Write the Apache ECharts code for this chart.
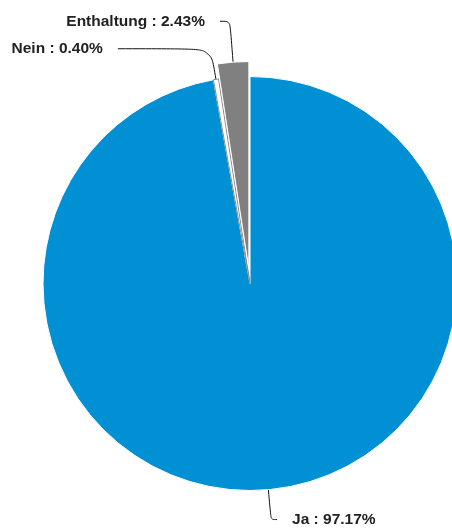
<!DOCTYPE html>
<html>
<head>
<meta charset="utf-8">
<script src="https://cdn.jsdelivr.net/npm/echarts@6/dist/echarts.min.js"></script>
<style>html,body{margin:0;padding:0;background:#fff;}#c{width:452px;height:529px;}</style>
</head>
<body>
<div id="c"></div>
<script>
const categories = ['Ja', 'Nein', 'Enthaltung'];
const values = [97.17, 0.40, 2.43];
const colors = ['#0090d3', '#ffffff', '#808080'];

const chart = echarts.init(document.getElementById('c'), null, {renderer: 'canvas'});
const lineCfg = [
  {length: 30, length2: 6},
  {length: 31, length2: 93},
  {length: 41, length2: 10}
];
const labelStyle = {
  show: true,
  formatter: p => p.name + ' : ' + p.value.toFixed(2) + '%',
  fontFamily: 'Liberation Sans, Arial, sans-serif',
  fontWeight: 'bold',
  fontSize: 15.5,
  color: '#222',
  distanceToLabelLine: 15
};
const data = categories.map((n, i) => ({
  name: n,
  value: values[i],
  selected: i === 2,
  itemStyle: {
    color: colors[i],
    borderColor: i === 1 ? '#8a8a8a' : '#ffffff',
    borderWidth: 1
  },
  label: labelStyle,
  labelLine: lineCfg[i],
  select: {
    itemStyle: {color: colors[i], borderColor: '#ffffff', borderWidth: 1},
    label: labelStyle,
    labelLine: {show: true}
  }
}));
chart.setOption({
  animation: false,
  series: [{
    type: 'pie',
    center: [250, 283.5],
    radius: [0, 207],
    startAngle: 90,
    clockwise: true,
    selectedMode: 'single',
    selectedOffset: 15,
    avoidLabelOverlap: false,
    labelLayout: {hideOverlap: false},
    data: data,
    label: labelStyle,
    labelLine: {
      show: true,
      smooth: 0.3,
      lineStyle: {color: '#111', width: 1}
    },
    emphasis: {disabled: true}
  }]
});
</script>
</body>
</html>
